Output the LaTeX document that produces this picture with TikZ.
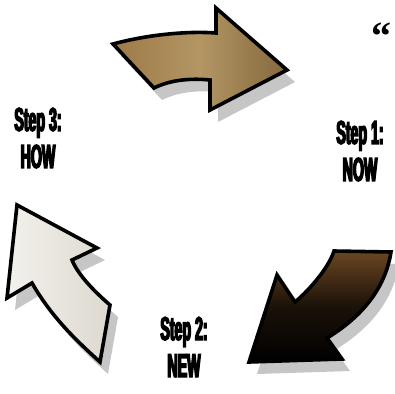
\documentclass[tikz,border=0pt]{standalone}
\usepackage{fontspec}
\setmainfont{Liberation Serif}
\newfontfamily\stepfont{Liberation Sans}[FakeStretch=0.43,FakeBold=4]
\usepackage{tikz}
\usetikzlibrary{shadows}
\definecolor{nowbrown}{HTML}{9C7A47}
\definecolor{nowbrownlt}{HTML}{B39664}
\definecolor{newwood}{HTML}{6B4622}
\definecolor{howwood}{HTML}{F3F1EC}
\definecolor{howwooddk}{HTML}{DDD9CF}
\definecolor{shadowgray}{HTML}{C6C6C6}

\begin{document}
\begin{tikzpicture}[x=1pt,y=-1pt,
    arr/.style={draw=black, line width=3.6pt, line join=miter, miter limit=4,
      drop shadow={shadow xshift=8pt, shadow yshift=-12pt, fill=shadowgray, opacity=1}},
    lbl/.style={font={\stepfont\bfseries\fontsize{33}{37}\selectfont}, align=center, inner sep=0pt}]
  \useasboundingbox (0,0) rectangle (395,393);
  % step 1 arrow
  \draw[arr, left color=nowbrown, right color=nowbrown!85!black, middle color=nowbrownlt]
    (113,44) .. controls (150,34) and (190,31) .. (216,33) -- (216,8) -- (287,70)
    -- (210,110) -- (210,80) .. controls (190,78) and (170,80) .. (154,88) -- cycle;
  % step 2 arrow
  \draw[arr, top color=newwood, bottom color=black, middle color=black!75!newwood]
    (334,251) -- (391,252) .. controls (385,290) and (360,318) .. (327,338)
    -- (342,359) -- (249,362) -- (277,275) -- (295,302)
    .. controls (305,294) and (328,270) .. (334,251) -- cycle;
  % step 3 arrow
  \draw[arr, left color=howwood, right color=howwooddk]
    (17,205) -- (97,248) -- (72,260) .. controls (78,275) and (95,292) .. (110,305)
    -- (100,362) .. controls (78,342) and (52,318) .. (32,283) -- (7,298) -- cycle;
  \node[lbl] (now) at (360,151) {Step 1:\\NOW};
  \node[lbl] (new) at (184,347) {Step 2:\\NEW};
  \node[lbl] (how) at (38,138) {Step 3:\\HOW};
  \node[font={\bfseries\fontsize{40}{40}\selectfont}, inner sep=0pt, anchor=base] (quote) at (381,50) {“};
\end{tikzpicture}
\end{document}
